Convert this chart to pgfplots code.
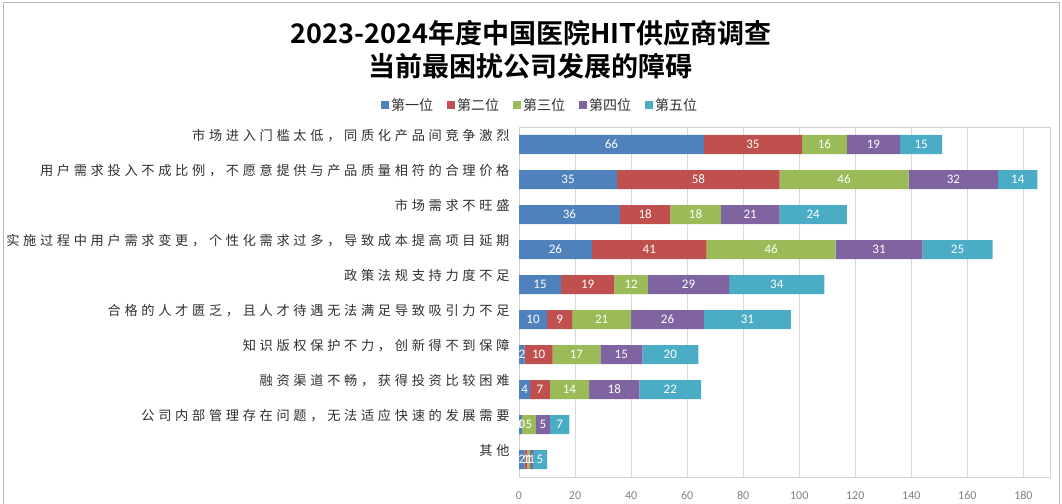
\documentclass[border=0pt]{standalone}
\usepackage{fontspec}
\setmainfont{Carlito}
\newfontfamily\cjk{Noto Sans CJK SC}
\newfontfamily\cjklab{Noto Sans CJK SC}[LetterSpace=28]
\newfontfamily\cjkbold{Noto Sans CJK SC Bold}
\usepackage{pgfplots}
\usepackage{pgfplotstable}
\pgfplotsset{compat=1.18}
\definecolor{cA}{HTML}{4F81BD}
\definecolor{cB}{HTML}{C0504D}
\definecolor{cC}{HTML}{9BBB59}
\definecolor{cD}{HTML}{8064A2}
\definecolor{cE}{HTML}{4BACC6}
\definecolor{txt}{HTML}{303030}
\pgfplotstableread{
y a b c d e
1 66 35 16 19 15
2 35 58 46 32 14
3 36 18 18 21 24
4 26 41 46 31 25
5 15 19 12 29 34
6 10 9 21 26 31
7 2 10 17 15 20
8 4 7 14 18 22
9 1 0 5 5 7
10 2 1 1 1 5
}\datatable
\begin{document}
\begin{tikzpicture}
\useasboundingbox (0,0) rectangle (1062pt,503pt);
\draw[gray!55, line width=1pt] (3pt,-10pt) rectangle (1059pt,500pt);
\pgfplotsset{
  common/.style={
    at={(519pt,26pt)}, anchor=south west,
    scale only axis, width=531pt, height=350pt,
    xmin=0, xmax=189.5, ymin=0.5, ymax=10.5, y dir=reverse,
  }
}
\begin{axis}[common,
  xbar stacked, bar width=19pt,
  axis line style={gray!35},
  grid=major, ymajorgrids=false, grid style={gray!30},
  major tick length=0pt,
  xtick={0,20,...,180},
  xticklabel style={font=\fontsize{12}{12}\selectfont, text=gray, yshift=-11pt},
  /pgf/number format/assume math mode=true,
  ytick={1,...,10},
  yticklabels={
    {市场进入门槛太低，同质化产品间竞争激烈},
    {用户需求投入不成比例，不愿意提供与产品质量相符的合理价格},
    {市场需求不旺盛},
    {实施过程中用户需求变更，个性化需求过多，导致成本提高项目延期},
    {政策法规支持力度不足},
    {合格的人才匮乏，且人才待遇无法满足导致吸引力不足},
    {知识版权保护不力，创新得不到保障},
    {融资渠道不畅，获得投资比较困难},
    {公司内部管理存在问题，无法适应快速的发展需要},
    {其他}},
  yticklabel style={font=\cjklab\fontsize{13.2}{13}\selectfont, text=txt, yshift=9pt, xshift=-6pt},
  title={2023-2024年度中国医院HIT供应商调查\\当前最困扰公司发展的障碍},
  title style={at={(0.0226,1.203)}, anchor=center, align=center,
    font=\cjkbold\fontsize{27}{33}\selectfont, text=black},
  legend columns=5,
  legend style={at={(0.04,1.063)}, anchor=center, draw=none,
    font=\cjk\fontsize{14}{14}\selectfont, text=txt,
    /tikz/every even column/.append style={column sep=12pt}},
  legend image code/.code={\fill[#1] (0pt,-4pt) rectangle (8pt,4pt);},
]
\addplot[fill=cA, draw=none] table[x=a, y=y] {\datatable};
\addplot[fill=cB, draw=none] table[x=b, y=y] {\datatable};
\addplot[fill=cC, draw=none] table[x=c, y=y] {\datatable};
\addplot[fill=cD, draw=none] table[x=d, y=y] {\datatable};
\addplot[fill=cE, draw=none] table[x=e, y=y] {\datatable};
\legend{第一位,第二位,第三位,第四位,第五位}
\end{axis}
\begin{axis}[common, hide axis,
  nodes near coords, point meta=explicit symbolic,
  every node near coord/.append style={anchor=center, text=white, font=\fontsize{13}{13}\selectfont},
]
\addplot[draw=none, mark=none] table[x expr={0.5*\thisrow{a}}, y=y, meta=a] {\datatable};
\addplot[draw=none, mark=none] table[x expr={\thisrow{a}+0.5*\thisrow{b}}, y=y, meta=b] {\datatable};
\addplot[draw=none, mark=none] table[x expr={\thisrow{a}+\thisrow{b}+0.5*\thisrow{c}}, y=y, meta=c] {\datatable};
\addplot[draw=none, mark=none] table[x expr={\thisrow{a}+\thisrow{b}+\thisrow{c}+0.5*\thisrow{d}}, y=y, meta=d] {\datatable};
\addplot[draw=none, mark=none] table[x expr={\thisrow{a}+\thisrow{b}+\thisrow{c}+\thisrow{d}+0.5*\thisrow{e}}, y=y, meta=e] {\datatable};
\end{axis}
\end{tikzpicture}
\end{document}
